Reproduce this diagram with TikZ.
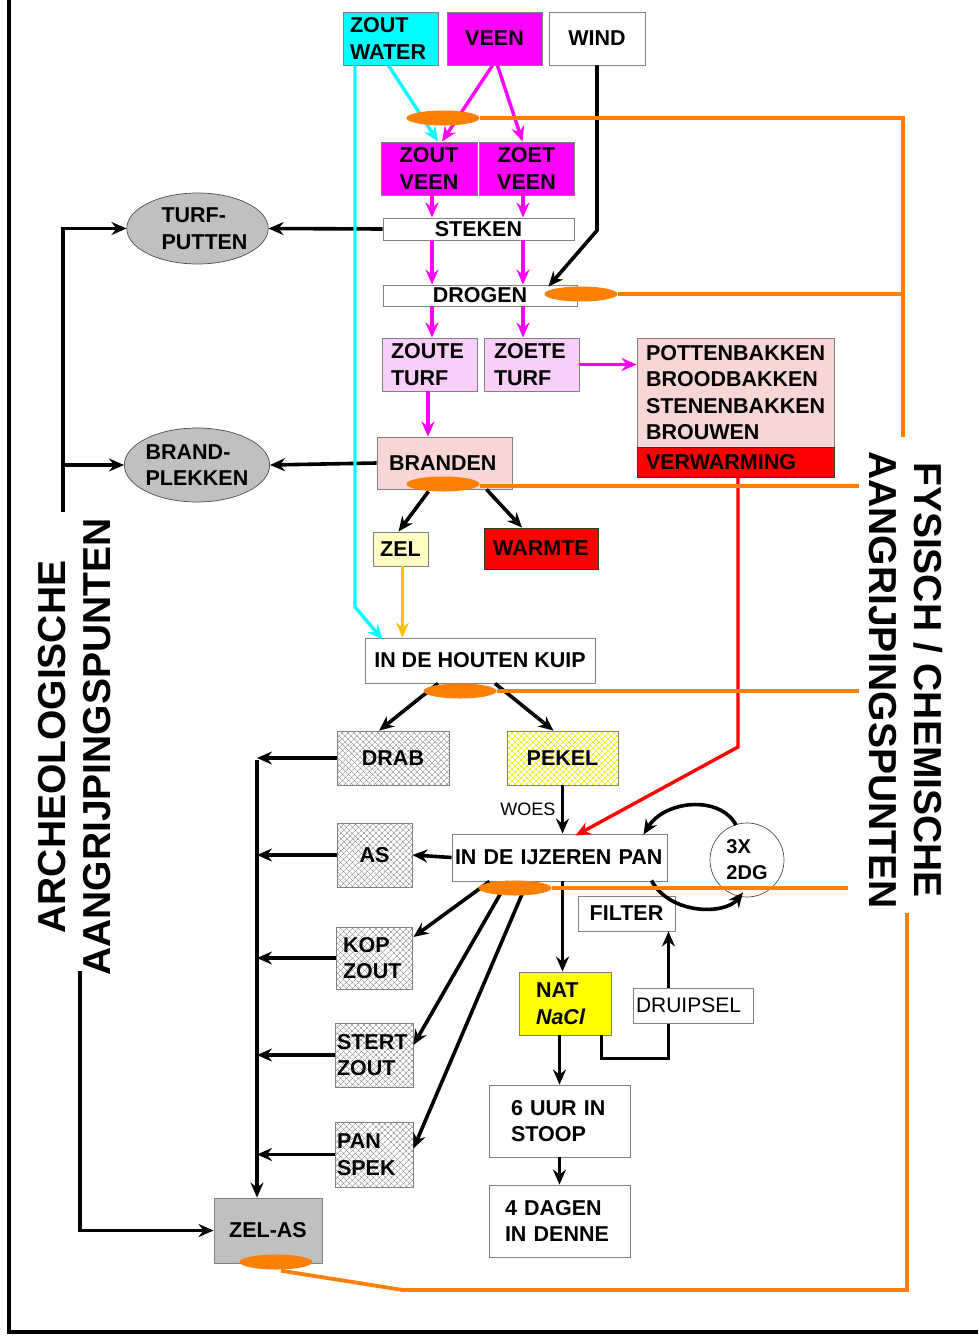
\documentclass[tikz,border=0pt]{standalone}
\usepackage{fontspec}
\setmainfont{Liberation Sans}
\usetikzlibrary{arrows.meta,calc,patterns,patterns.meta,shapes.geometric}
\definecolor{orC}{HTML}{FF8000}
\definecolor{cyC}{HTML}{00FFFF}
\definecolor{mgC}{HTML}{FF00FF}
\definecolor{rdC}{HTML}{FF0000}
\definecolor{gdC}{HTML}{FFC000}
\definecolor{bdC}{HTML}{808080}
\definecolor{gyC}{HTML}{C0C0C0}
\definecolor{pkC}{HTML}{F9CFF9}
\definecolor{rpC}{HTML}{F9D6D6}
\definecolor{lyC}{HTML}{FFFFC4}
\definecolor{yeC}{HTML}{FFFF00}
\definecolor{hyC}{HTML}{F0F000}
\newcommand\bft{\fontsize{21.5}{26.5}\selectfont\bfseries}
\newcommand\rgt{\fontsize{21}{26}\selectfont}
\newcommand\woest{\fontsize{18}{22}\selectfont}
\newcommand\bigt{\fontsize{39}{45}\selectfont\bfseries}
\begin{document}
\begin{tikzpicture}[x=1pt,y=-1pt,
  box/.style={draw=bdC, line width=0.9pt, inner sep=0pt, font=\bft, align=center},
  hatchg/.style={pattern={Lines[angle=45,distance=4pt,line width=0.6pt]}, pattern color=gray,
     preaction={pattern={Lines[angle=-45,distance=4pt,line width=0.6pt]}, pattern color=gray}},
  hatchy/.style={pattern={Lines[angle=45,distance=4pt,line width=0.7pt]}, pattern color=hyC,
     preaction={pattern={Lines[angle=-45,distance=4pt,line width=0.7pt]}, pattern color=hyC}},
  gell/.style={ellipse, draw=black!70, fill=gyC, line width=0.7pt, inner sep=0pt, font=\bft, align=left},
  oell/.style={ellipse, fill=orC, minimum width=73pt, minimum height=15pt, inner sep=0pt},
  tip/.style={-{Stealth[length=15pt,width=13pt,inset=5pt]}},
  arr/.style={line width=3.6pt, black, tip},
  mga/.style={line width=3.4pt, mgC, tip},
  cyl/.style={line width=3.4pt, cyC, tip},
  gda/.style={line width=3.4pt, gdC, tip},
  rda/.style={line width=3.4pt, rdC, tip},
  orl/.style={line width=3.8pt, orC}]
\useasboundingbox (0,0) rectangle (978,1338);
% frame
\draw[line width=3.5pt] (9,0) -- (9,1332) -- (978,1332);

% ---------- boxes ----------
\node[box, fill=cyC, minimum width=95pt, minimum height=53pt, text width=81pt, align=left] (zw) at (390.5,38.5) {ZOUT\\WATER};
\node[box, fill=mgC, minimum width=95pt, minimum height=53pt] (veen) at (494.5,38.5) {VEEN};
\node[box, fill=white, minimum width=96pt, minimum height=53pt] (wind) at (597,38.5) {WIND};
\node[box, fill=mgC, minimum width=96pt, minimum height=53pt] (zv) at (429,168.5) {ZOUT\\VEEN};
\node[box, fill=mgC, minimum width=95pt, minimum height=53pt] (zev) at (526.5,168.5) {ZOET\\VEEN};
\node[box, minimum width=191pt, minimum height=22pt] (steken) at (478.5,229) {STEKEN};
\node[box, minimum width=194pt, minimum height=21pt] (drogen) at (480,295.5) {DROGEN};
\node[box, fill=pkC, minimum width=95pt, minimum height=53pt, text width=77pt, align=left] (zot) at (429.5,364.5) {ZOUTE\\TURF};
\node[box, fill=pkC, minimum width=95pt, minimum height=53pt, text width=75pt, align=left] (zet) at (531.5,364.5) {ZOETE\\TURF};
\node[box, fill=rpC, minimum width=197pt, minimum height=109pt, text width=179pt, align=left] (potten) at (735.5,392.5) {POTTENBAKKEN\\BROODBAKKEN\\STENENBAKKEN\\BROUWEN};
\node[box, draw=black!80, fill=rdC, minimum width=197pt, minimum height=30pt, text width=179pt, align=left] (verw) at (735.5,462) {VERWARMING};
\node[box, fill=rpC, minimum width=135pt, minimum height=52pt, text width=111pt, align=left] (branden) at (444.5,463) {BRANDEN};
\node[box, fill=lyC, minimum width=55pt, minimum height=34pt] (zel) at (400.5,549) {ZEL};
\node[box, draw=black!80, fill=rdC, minimum width=114pt, minimum height=41pt] (warmte) at (541,548.5) {WARMTE};
\node[box, fill=white, minimum width=230pt, minimum height=45pt] (kuip) at (480,660.5) {IN DE HOUTEN KUIP};
\node[box, hatchg, minimum width=112pt, minimum height=54pt] (drab) at (393,758) {DRAB};
\node[box, hatchy, minimum width=111pt, minimum height=54pt] (pekel) at (562.5,758) {PEKEL};
\node[box, hatchg, minimum width=75pt, minimum height=64pt] (as) at (374.5,855) {AS};
\node[box, fill=white, minimum width=215pt, minimum height=47pt, text width=209pt, align=left] (pan) at (559.5,857.5) {IN DE IJZEREN PAN};
\node[box, circle, draw=black!70, line width=0.7pt, fill=white, minimum size=74pt, align=left, font=\fontsize{20}{26}\selectfont\bfseries] (circ) at (747,860) {3X\\2DG};
\node[box, fill=white, minimum width=97pt, minimum height=35pt] (filter) at (626.5,913.5) {FILTER};
\node[box, hatchg, minimum width=76pt, minimum height=62pt, text width=62pt, align=left] (kop) at (374,958) {KOP\\ZOUT};
\node[box, hatchg, minimum width=78pt, minimum height=64pt, text width=74pt, align=left] (stert) at (374,1055) {STERT\\ZOUT};
\node[box, hatchg, minimum width=78pt, minimum height=65pt, text width=74pt, align=left] (ps) at (374,1154.5) {PAN\\SPEK};
\node[box, fill=gyC, minimum width=108pt, minimum height=65pt] (zelas) at (268,1230.5) {ZEL-AS};
\node[box, fill=yeC, minimum width=92pt, minimum height=63pt, text width=58pt, align=left] (nat) at (565,1003.5) {NAT\\\textit{NaCl}};
\node[box, fill=white, minimum width=141pt, minimum height=72pt, text width=97pt, align=left] (uur) at (559.5,1121) {6 UUR IN\\STOOP};
\node[box, fill=white, minimum width=141pt, minimum height=72pt, text width=109pt, align=left] (dagen) at (559.5,1221) {4 DAGEN\\IN DENNE};
\node[gell, minimum width=131pt, minimum height=71pt] (tp) at (197.5,228.5) {\hspace*{14pt}TURF-\\\hspace*{14pt}PUTTEN};
\node[gell, minimum width=136pt, minimum height=74pt] (bp) at (197,465) {BRAND-\\PLEKKEN};

% ---------- rotated titles ----------
\node[rotate=90, font=\bigt, align=center, inner sep=0pt] (archeo) at (74.5,747) {ARCHEOLOGISCHE\\AANGRIJPINGSPUNTEN};
\node[rotate=-90, font=\bigt, align=center, inner sep=0pt] (fys) at (905.5,680) {FYSISCH / CHEMISCHE\\AANGRIJPINGSPUNTEN};

% ---------- magenta flow ----------
\coordinate (cA) at (432,0);
\coordinate (cB) at (523,0);
\coordinate (cC) at (428,0);
\draw[mga] ($(veen.south)+(-2,0)$) -- ($(zv.north)+(13,0)$);
\draw[mga] ($(veen.south)+(3,0)$) -- ($(zev.north)+(-4,0)$);
\draw[mga] (zv.south -| cA) -- (steken.north -| cA);
\draw[mga] (zev.south -| cB) -- (steken.north -| cB);
\draw[mga] (steken.south -| cA) -- (drogen.north -| cA);
\draw[mga] (steken.south -| cB) -- (drogen.north -| cB);
\draw[mga] (drogen.south -| cA) -- (zot.north -| cA);
\draw[mga] (drogen.south -| cB) -- (zet.north -| cB);
\draw[mga] (zot.south -| cC) -- (branden.north -| cC);
\draw[mga] (zet.east) -- (zet.east -| potten.west);

% ---------- black flow ----------
\draw[arr] (steken.west) -- (tp.east);
\draw[arr] (branden.west) -- (bp.east);
\coordinate (LA) at (63,512);
\draw[arr] (LA) |- (tp.west);
\draw[arr] (LA |- bp.west) -- (bp.west);
\draw[arr] (wind.south) -- ++(0,165) -- ($(drogen.north east)+(-29,2)$);
\draw[arr] ($(branden.south)+(-16,2)$) -- ($(zel.north)+(-2,0)$);
\draw[arr] ($(branden.south)+(42,0)$) -- ($(warmte.north)+(-19,0)$);
\coordinate (zg) at ($(zel.south)+(2,0)$);
\draw[gda] (zg) -- (zg |- kuip.north);
\draw[arr] ($(kuip.south)+(-42,0)$) -- ($(drab.north)+(-14,0)$);
\draw[arr] ($(kuip.south)+(15,0)$) -- ($(pekel.north)+(-9,0)$);
\draw[arr] (pekel.south) -- (pekel.south |- pan.north) node[midway, left=2pt, font=\woest] (woes) {WOES};
\coordinate (rA) at (738,747);
\draw[rda] (verw.south -| rA) -- (rA) -- ($(pan.north)+(16,2)$);
\draw[arr] (pan.west) -- (as.east);
\draw[arr] ($(circ.center)+(-11,-35)$) .. controls (720,795) and (665,800) .. ($(pan.north east)+(-24,1)$);
\draw[arr] ($(pan.south east)+(-16,-1)$) .. controls (670,915) and (725,915) .. ($(circ.south)+(-4,-5)$);
\coordinate (pn) at ($(pan.south)+(3,0)$);
\draw[arr] (pn) -- (pn |- nat.north);
\draw[arr] ($(pan.south)+(-70,0)$) -- ($(kop.east)+(1,-21)$);
\draw[arr] ($(pan.south)+(-52,0)$) -- ($(stert.east)+(0,-10)$);
\draw[arr] ($(pan.south)+(-32,0)$) -- ($(ps.east)+(0,-6)$);
\draw[arr] ($(nat.south east)+(-10,0)$) -- ++(0,23) -| ($(filter.south east)+(-7,0)$);
\node[box, font=\rgt, fill=white, minimum width=120pt, minimum height=35pt, text width=114pt, align=left] (druip) at (693,1005.5) {DRUIPSEL};
\draw[arr] (uur.north |- nat.south) -- (uur.north);
\draw[arr] (uur.south) -- (dagen.north);
\coordinate (cT) at (257,760);
\draw[arr] (cT) -- (cT |- zelas.north);
\foreach \n in {drab,as,kop,stert,ps} \draw[arr] (\n.west) -- (\n.west -| cT);
\coordinate (LB) at (80,971);
\draw[arr] (LB) |- (zelas.west);

% ---------- cyan ----------
\coordinate (cyA) at (355,607);
\draw[cyl] (zw.south west -| cyA) -- (cyA) -- ($(kuip.north west)+(18,2)$);
\draw[cyl] ($(zw.south)+(-2,0)$) -- ($(zv.north)+(9,0)$);

% ---------- orange ----------
\node[oell] (e1) at (443,118) {};
\node[oell] (e2) at (581,294) {};
\node[oell] (e3) at (443,484) {};
\node[oell] (e4) at (460,691) {};
\node[oell] (e5) at (515,888) {};
\node[oell] (e6) at (276,1262) {};
\coordinate (oR1) at (903,118);
\coordinate (oR2) at (903,437);
\draw[orl] (e1.east) -- (oR1) -- (oR2);
\draw[orl] (e2.east) -- (e2.east -| oR1);
\coordinate (oE3) at (859,486);
\draw[orl] ($(e3.east)+(0,2)$) -- (oE3);
\coordinate (oE4) at (859,691);
\draw[orl] (e4.east) -- (e4.east -| oE4);
\coordinate (oE5) at (848,888);
\draw[orl] (e5.east) -- (e5.east -| oE5);
\coordinate (oB1) at (403,1290);
\coordinate (oB2) at (907,1290);
\coordinate (oB3) at (907,913);
\draw[orl] ($(e6.south)+(5,1)$) -- (oB1) -- (oB2) -- (oB3);
\end{tikzpicture}
\end{document}
